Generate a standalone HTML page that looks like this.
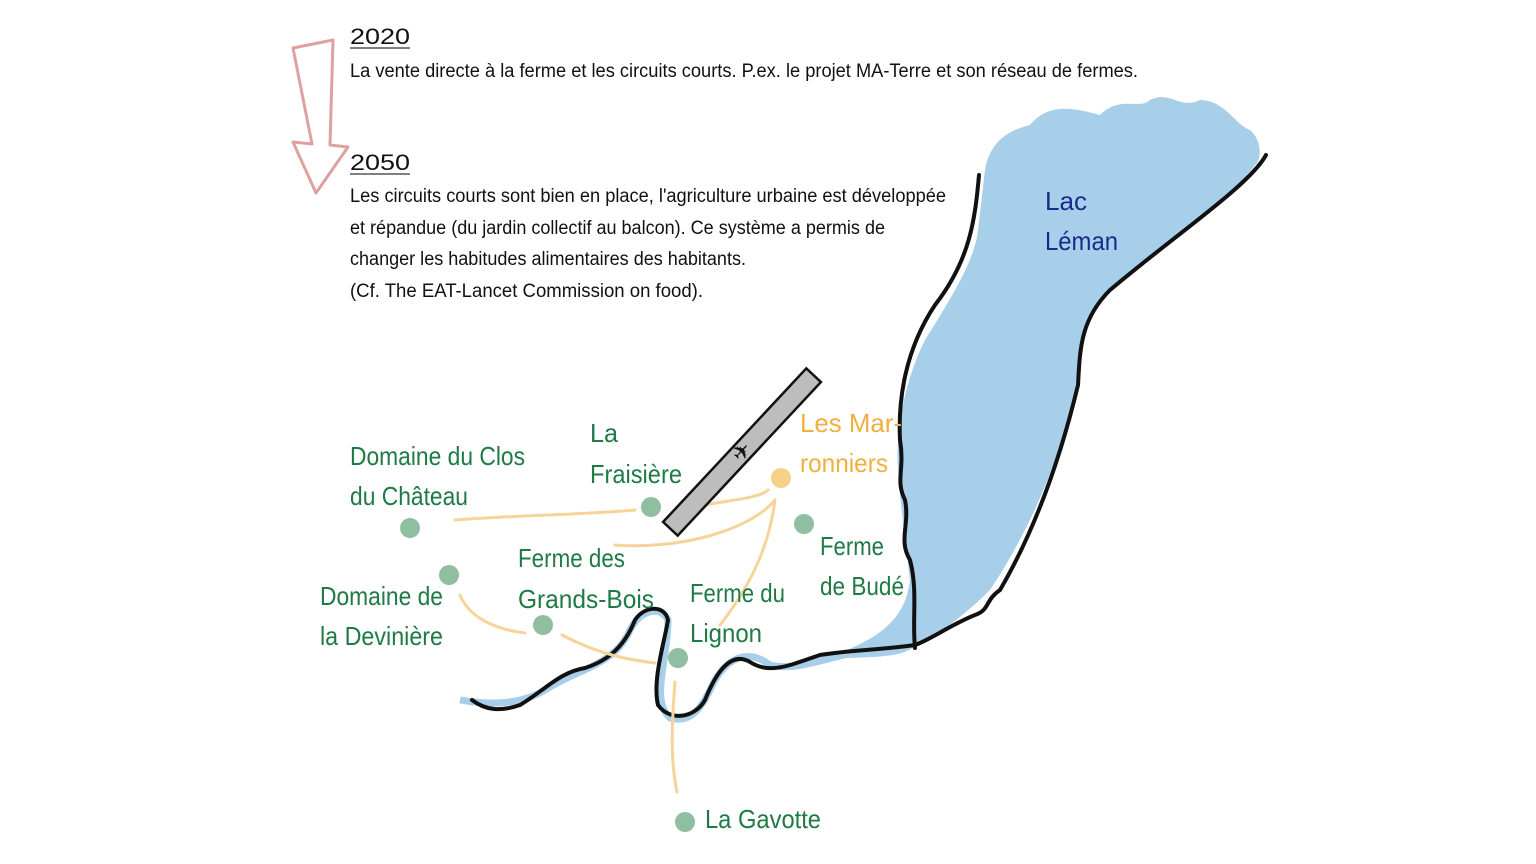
<!DOCTYPE html>
<html><head><meta charset="utf-8"><style>
html,body{margin:0;padding:0;background:#fff;}
svg{display:block}
.t{font-family:"Liberation Sans Narrow","Liberation Sans",sans-serif;fill:#111;}
.g{font-family:"Liberation Sans Narrow","Liberation Sans",sans-serif;fill:#1f7a45;font-size:26px;}
</style></head><body>
<svg width="1536" height="864" viewBox="0 0 1536 864">
<path d="M293,48 L333,40 L330,145 L348,147 L316,193 L293,142 L312,144 Z" fill="none" stroke="#e0a0a0" stroke-width="3" stroke-linejoin="round"/>
<text class="t" x="350" y="44" font-size="22" textLength="60" lengthAdjust="spacingAndGlyphs">2020</text>
<line x1="350" y1="48" x2="410" y2="48" stroke="#555" stroke-width="1.5"/>
<text class="t" x="350" y="77" font-size="19" textLength="788" lengthAdjust="spacingAndGlyphs">La vente directe à la ferme et les circuits courts. P.ex. le projet MA-Terre et son réseau de fermes.</text>
<text class="t" x="350" y="170" font-size="22" textLength="60" lengthAdjust="spacingAndGlyphs">2050</text>
<line x1="350" y1="174" x2="410" y2="174" stroke="#555" stroke-width="1.5"/>
<text class="t" x="350" y="202" font-size="19" textLength="596" lengthAdjust="spacingAndGlyphs">Les circuits courts sont bien en place, l'agriculture urbaine est développée</text>
<text class="t" x="350" y="234" font-size="19" textLength="535" lengthAdjust="spacingAndGlyphs">et répandue (du jardin collectif au balcon). Ce système a permis de</text>
<text class="t" x="350" y="265" font-size="19" textLength="396" lengthAdjust="spacingAndGlyphs">changer les habitudes alimentaires des habitants.</text>
<text class="t" x="350" y="297" font-size="19" textLength="353" lengthAdjust="spacingAndGlyphs">(Cf. The EAT-Lancet Commission on food).</text>
<path d="M985,170 C990,140 1010,130 1030,125 C1050,100 1080,110 1100,115 C1120,95 1140,110 1150,100 C1170,90 1180,110 1200,100 C1225,100 1235,125 1250,130 C1262,140 1262,160 1255,165 C1230,200 1170,240 1110,290 C1085,320 1080,350 1075,390 C1060,460 1030,530 990,590 C960,620 930,640 905,652 C880,660 850,656 820,660 C880,640 905,620 910,580 C905,540 900,500 898,470 C895,430 905,380 925,340 C950,300 975,260 978,230 Z" fill="#a8cfea"/>
<path d="M460,700 C490,705 520,705 545,690 C580,668 615,665 630,630 C640,610 660,605 668,620 C668,660 650,700 670,718 C695,725 705,700 715,680 C730,655 750,650 770,665 C800,672 830,655 870,650 L905,648" fill="none" stroke="#a8cfea" stroke-width="7"/>
<path d="M979,175 C975,220 970,260 935,305 C905,350 898,400 900,440 C905,470 895,480 905,500 C910,525 898,540 910,560 C918,590 912,620 915,648" fill="none" stroke="#111" stroke-width="4" stroke-linecap="round"/>
<path d="M1266,155 C1250,185 1175,235 1110,290 C1080,320 1080,350 1078,385 C1060,460 1035,530 1000,590 C985,600 990,610 975,615 C950,625 930,640 915,645 C880,650 850,650 820,655 C790,665 770,675 750,662 C730,650 715,675 705,700 C695,718 670,722 658,705 C652,680 665,640 668,620 C665,605 645,605 635,620 C625,645 610,660 585,668 C560,672 545,690 520,705 C500,712 485,710 472,700" fill="none" stroke="#111" stroke-width="4" stroke-linecap="round" stroke-linejoin="round"/>
<g fill="none" stroke="#f5d49a" stroke-width="3" stroke-linecap="round">
<path d="M455,520 C520,515 580,515 635,510"/>
<path d="M705,505 C730,500 760,498 768,490"/>
<path d="M615,545 C680,550 750,530 775,500"/>
<path d="M775,500 C770,540 755,580 720,625"/>
<path d="M460,595 C470,620 500,630 525,633"/>
<path d="M562,635 C600,655 630,660 655,663"/>
<path d="M675,682 C672,720 670,760 677,792"/>
</g>
<g transform="translate(742,452) rotate(-47)">
<rect x="-105" y="-10" width="210" height="20" fill="#bdbdbd" stroke="#111" stroke-width="2.5"/>
<text x="0" y="7" font-size="22" text-anchor="middle" fill="#111">✈</text>
</g>
<g fill="#8fbfa0">
<circle cx="410" cy="528" r="10"/><circle cx="651" cy="507" r="10"/>
<circle cx="804" cy="524" r="10"/><circle cx="449" cy="575" r="10"/>
<circle cx="543" cy="625" r="10"/><circle cx="678" cy="658" r="10"/>
<circle cx="685" cy="822" r="10"/>
</g>
<circle cx="781" cy="478" r="10" fill="#f7d08a"/>
<g lengthAdjust="spacingAndGlyphs">
<text class="g" x="350" y="465" textLength="175" lengthAdjust="spacingAndGlyphs">Domaine du Clos</text>
<text class="g" x="350" y="505" textLength="118" lengthAdjust="spacingAndGlyphs">du Château</text>
<text class="g" x="590" y="442" textLength="28" lengthAdjust="spacingAndGlyphs">La</text>
<text class="g" x="590" y="483" textLength="92" lengthAdjust="spacingAndGlyphs">Fraisière</text>
<text class="g" x="800" y="432" textLength="102" lengthAdjust="spacingAndGlyphs" style="fill:#f0b040">Les Mar-</text>
<text class="g" x="800" y="472" textLength="88" lengthAdjust="spacingAndGlyphs" style="fill:#f0b040">ronniers</text>
<text class="g" x="820" y="555" textLength="64" lengthAdjust="spacingAndGlyphs">Ferme</text>
<text class="g" x="820" y="595" textLength="84" lengthAdjust="spacingAndGlyphs">de Budé</text>
<text class="g" x="518" y="567" textLength="107" lengthAdjust="spacingAndGlyphs">Ferme des</text>
<text class="g" x="518" y="608" textLength="136" lengthAdjust="spacingAndGlyphs">Grands-Bois</text>
<text class="g" x="690" y="602" textLength="95" lengthAdjust="spacingAndGlyphs">Ferme du</text>
<text class="g" x="690" y="642" textLength="72" lengthAdjust="spacingAndGlyphs">Lignon</text>
<text class="g" x="320" y="605" textLength="123" lengthAdjust="spacingAndGlyphs">Domaine de</text>
<text class="g" x="320" y="645" textLength="123" lengthAdjust="spacingAndGlyphs">la Devinière</text>
<text class="g" x="705" y="828" textLength="116" lengthAdjust="spacingAndGlyphs">La Gavotte</text>
<text class="g" x="1045" y="210" textLength="42" lengthAdjust="spacingAndGlyphs" style="fill:#1a2a8a">Lac</text>
<text class="g" x="1045" y="250" textLength="73" lengthAdjust="spacingAndGlyphs" style="fill:#1a2a8a">Léman</text>
</g>
</svg>
</body></html>
